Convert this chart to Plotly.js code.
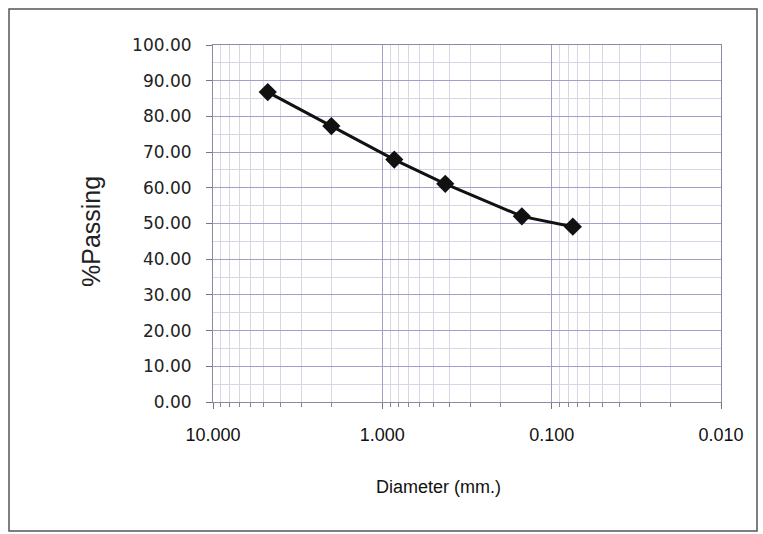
<!DOCTYPE html>
<html>
<head>
<meta charset="utf-8">
<script src="https://cdn.plot.ly/plotly-3.0.1.min.js"></script>
<style>html,body{margin:0;padding:0;background:#fff;}#chart{width:763px;height:534px;}</style>
</head>
<body>
<div id="chart"></div>
<script>
const diameters = [4.75, 2.0, 0.85, 0.425, 0.15, 0.075];
const passing = [86.8, 77.3, 67.9, 61.1, 52.0, 49.1];
const xTickVals = [10, 1, 0.1, 0.01];
const xTickText = ['10.000', '1.000', '0.100', '0.010'];
const xTitle = 'Diameter (mm.)';
const yTitle = '%Passing';

const trace = {
  x: diameters, y: passing, type: 'scatter', mode: 'lines+markers',
  line: {color: '#111', width: 3},
  marker: {symbol: 'diamond', size: 14, color: '#111'},
  hoverinfo: 'x+y'
};

const layout = {
  width: 763, height: 534,
  margin: {l: 213, r: 42, t: 45, b: 132},
  paper_bgcolor: '#fff', plot_bgcolor: '#fff',
  showlegend: false,
  xaxis: {
    type: 'log', range: [1, -2],
    tickvals: xTickVals, ticktext: xTickText,
    tickfont: {family: 'Liberation Sans, Arial, sans-serif', size: 18, color: '#111'},
    showgrid: true, gridcolor: '#a0a0c8', gridwidth: 1,
    minor: {dtick: 'D1', showgrid: true, gridcolor: '#d6d6e6', gridwidth: 1, ticks: 'outside', ticklen: 4, tickcolor: '#888'},
    ticks: 'outside', ticklen: 6, tickcolor: '#777',
    showline: true, linecolor: '#8a8aa8', linewidth: 1, mirror: true,
    zeroline: false, ticklabelstandoff: 10
  },
  yaxis: {
    range: [0, 100], dtick: 10, tickformat: '.2f',
    tickfont: {family: 'DejaVu Sans, Verdana, sans-serif', size: 17, color: '#222'},
    showgrid: true, gridcolor: '#a0a0c8', gridwidth: 1,
    minor: {dtick: 5, showgrid: true, gridcolor: '#d6d6e6', gridwidth: 1},
    ticks: 'outside', ticklen: 6, tickcolor: '#777',
    showline: true, linecolor: '#8a8aa8', linewidth: 1, mirror: true,
    zeroline: false, ticklabelstandoff: 11
  },
  annotations: [
    {text: xTitle, xref: 'paper', yref: 'paper', x: (438-213)/508, y: (402-487)/357,
     showarrow: false, xanchor: 'center', yanchor: 'middle',
     font: {family: 'Liberation Sans, Arial, sans-serif', size: 18, color: '#111'}},
    {text: yTitle, xref: 'paper', yref: 'paper', x: (91-213)/508, y: (402-232)/357,
     showarrow: false, xanchor: 'center', yanchor: 'middle', textangle: -90,
     font: {family: 'Liberation Sans, Arial, sans-serif', size: 25, color: '#222'}}
  ],
  shapes: [
    {type: 'rect', xref: 'paper', yref: 'paper',
     x0: (9-213)/508, x1: (757-213)/508, y0: (402-531)/357, y1: (402-9)/357,
     line: {color: '#555', width: 1.5}, fillcolor: 'rgba(0,0,0,0)', layer: 'below'}
  ]
};

Plotly.newPlot('chart', [trace], layout, {displayModeBar: false, staticPlot: true});
</script>
</body>
</html>
